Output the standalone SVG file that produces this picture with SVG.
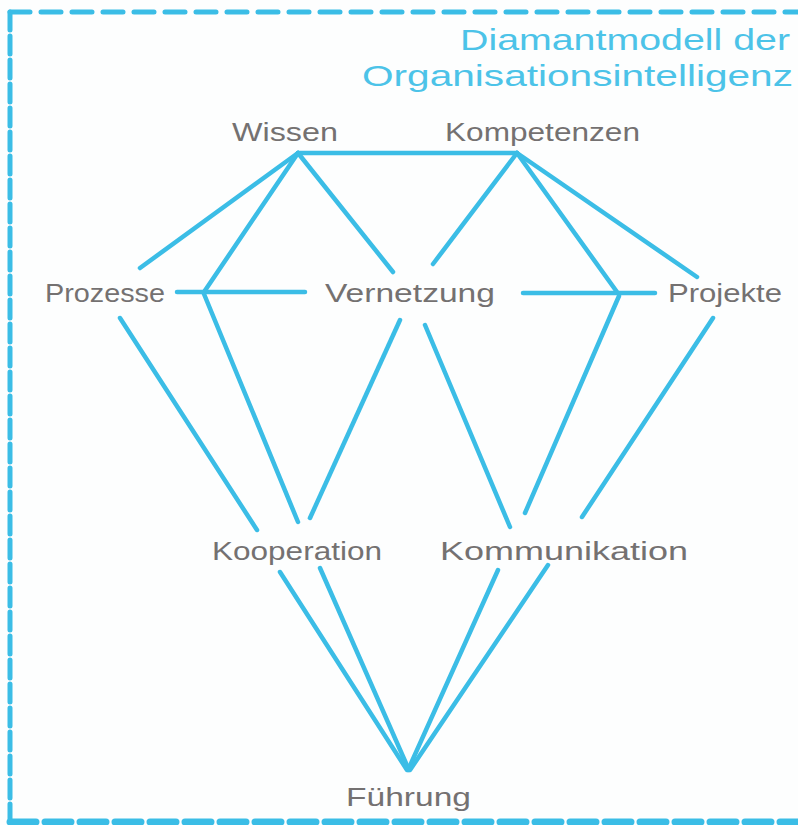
<svg xmlns="http://www.w3.org/2000/svg" width="798" height="825" viewBox="0 0 798 825">
<style>
.bg{fill:#fdfefe}
.frame{fill:none;stroke:#3bbde6;stroke-linecap:round}
.edge{stroke:#3bbde6;stroke-width:4.5;stroke-linecap:round;fill:none}
.lbl{font-family:"Liberation Sans","DejaVu Sans",sans-serif;font-size:25px;fill:#747171}
.title{font-family:"Liberation Sans","DejaVu Sans",sans-serif;font-size:29px;fill:#4cc3e8}
</style>
<rect class="bg" x="0" y="0" width="798" height="825"/>
<g id="frame">
<path class="frame" d="M10 12 H798" stroke-width="5" stroke-dasharray="20 11"/>
<path class="frame" d="M10 12 V822" stroke-width="5" stroke-dasharray="18 6"/>
<path class="frame" d="M10 822 H798" stroke-width="7" stroke-dasharray="26 9"/>
</g>
<g id="title">
<text class="title" x="790" y="50" text-anchor="end" textLength="330" lengthAdjust="spacingAndGlyphs">Diamantmodell der</text>
<text class="title" x="793" y="86" text-anchor="end" textLength="431" lengthAdjust="spacingAndGlyphs">Organisationsintelligenz</text>
</g>
<g id="connectors">
<line class="edge" x1="298" y1="153" x2="517" y2="153"/>
<line class="edge" x1="298" y1="153" x2="140" y2="268"/>
<line class="edge" x1="298" y1="153" x2="204" y2="292"/>
<line class="edge" x1="298" y1="153" x2="393" y2="272"/>
<line class="edge" x1="517" y1="153" x2="433" y2="264"/>
<line class="edge" x1="517" y1="153" x2="617" y2="292"/>
<line class="edge" x1="517" y1="153" x2="697" y2="277"/>
<line class="edge" x1="177" y1="292" x2="305" y2="292"/>
<line class="edge" x1="523" y1="293" x2="655" y2="293"/>
<line class="edge" x1="204" y1="294" x2="298" y2="522"/>
<line class="edge" x1="120" y1="318" x2="257" y2="530"/>
<line class="edge" x1="400" y1="320" x2="310" y2="518"/>
<line class="edge" x1="425" y1="325" x2="510" y2="527"/>
<line class="edge" x1="619" y1="296" x2="525" y2="513"/>
<line class="edge" x1="713" y1="318" x2="582" y2="517"/>
<line class="edge" x1="280" y1="572" x2="407" y2="770"/>
<line class="edge" x1="320" y1="568" x2="409" y2="770"/>
<line class="edge" x1="498" y1="570" x2="408" y2="770"/>
<line class="edge" x1="548" y1="565" x2="410" y2="770"/>
</g>
<g id="wissen"><text class="lbl" x="232" y="141" textLength="106" lengthAdjust="spacingAndGlyphs">Wissen</text></g>
<g id="kompetenzen"><text class="lbl" x="445" y="141" textLength="195" lengthAdjust="spacingAndGlyphs">Kompetenzen</text></g>
<g id="prozesse"><text class="lbl" x="45" y="302" textLength="120" lengthAdjust="spacingAndGlyphs">Prozesse</text></g>
<g id="vernetzung"><text class="lbl" x="325" y="302" textLength="170" lengthAdjust="spacingAndGlyphs">Vernetzung</text></g>
<g id="projekte"><text class="lbl" x="668" y="302" textLength="114" lengthAdjust="spacingAndGlyphs">Projekte</text></g>
<g id="kooperation"><text class="lbl" x="212" y="560" textLength="170" lengthAdjust="spacingAndGlyphs">Kooperation</text></g>
<g id="kommunikation"><text class="lbl" x="440" y="560" textLength="248" lengthAdjust="spacingAndGlyphs">Kommunikation</text></g>
<g id="fuehrung"><text class="lbl" x="346" y="806" textLength="125" lengthAdjust="spacingAndGlyphs">Führung</text></g>
</svg>
